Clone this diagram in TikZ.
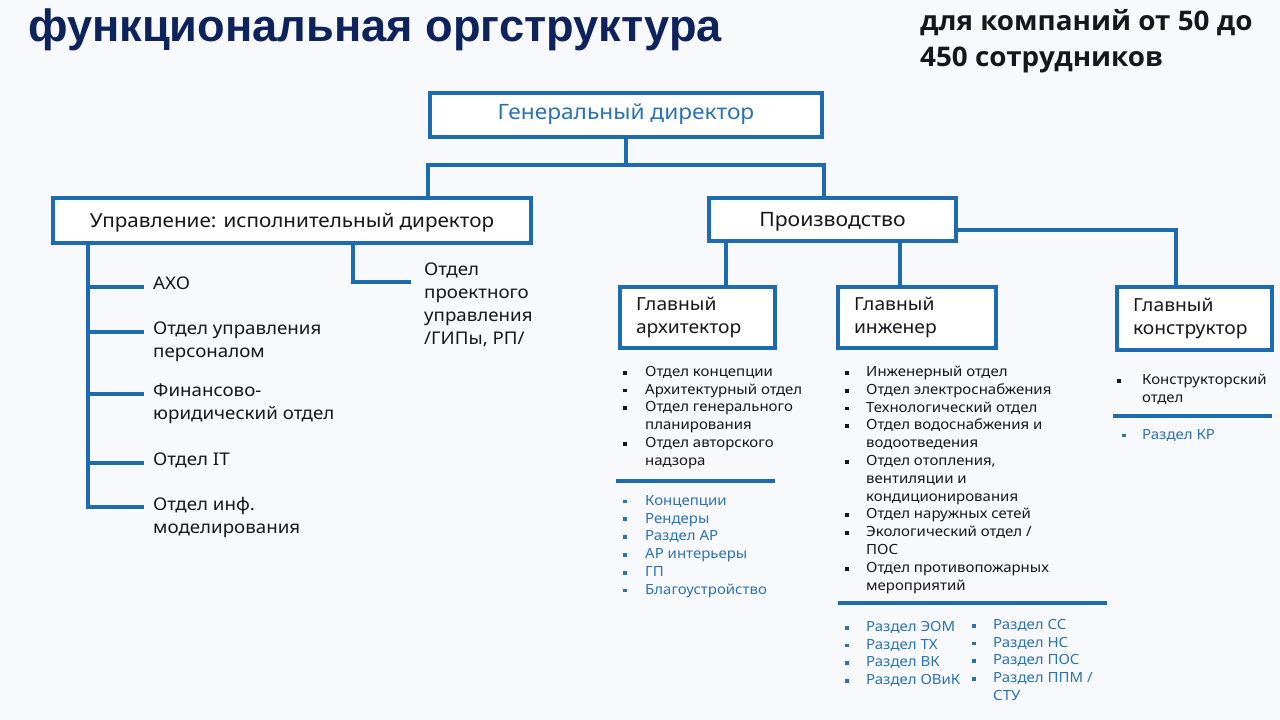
\documentclass[tikz,border=0pt]{standalone}
\usepackage{fontspec}
\setmainfont{Noto Sans}[FakeStretch=1.07]
\newfontfamily\titlefont{Liberation Sans}
\newfontfamily\subfont{Open Sans}[FakeStretch=1.03]
\usetikzlibrary{calc}

\definecolor{bg}{RGB}{248,249,252}
\definecolor{navy}{RGB}{14,35,92}
\definecolor{ink}{RGB}{22,22,28}
\definecolor{blu}{RGB}{30,108,176}
\definecolor{lblu}{RGB}{42,114,182}

% пункт списка с квадратным маркером
\newlength\bind
\newcommand\bitem[1]{\par\hangindent=\bind\hangafter=1\noindent\makebox[\bind][l]{\hspace{2pt}\raisebox{1.8pt}{\rule{3.8pt}{3.8pt}}}#1}

\tikzset{
  box/.style={draw=blu, line width=3.5pt, fill=white, inner sep=0pt, text=ink, text height=16pt, text depth=2pt, font=\fontsize{19.3}{23}\selectfont},
  sbox/.style={draw=blu, line width=3.5pt, fill=white, inner sep=0pt, text=ink, align=left, inner xsep=16pt, font=\fontsize{18}{23}\selectfont},
  conn/.style={draw=blu, line width=4pt, line cap=rect},
  sep/.style={draw=blu, line width=3.5pt},
  item/.style={anchor=north west, inner sep=0pt, align=left, text=ink, font=\fontsize{17.5}{23}\selectfont},
  blist/.style={anchor=north west, inner sep=0pt, font=\fontsize{14}{17.8}\selectfont},
}

\begin{document}
\begin{tikzpicture}[x=1pt,y=-1pt]
  % фон
  \fill[bg] (0,0) rectangle (1280,720);
  \useasboundingbox (0,0) rectangle (1280,720);

  % заголовок
  \node[anchor=west, inner sep=0pt, text=navy, font=\titlefont\bfseries\fontsize{45.2}{50}\selectfont] (title) at (28,30) {функциональная оргструктура};
  \node[anchor=north west, inner sep=0pt, align=left, text=ink, font=\subfont\bfseries\fontsize{27}{36}\selectfont] (sub) at (920,9) {для компаний от 50 до\\450 сотрудников};

  % верхний уровень
  \node[box, minimum width=392pt, minimum height=44pt, text=lblu, text height=14pt, text depth=5.5pt, font=\fontsize{21.2}{24}\selectfont] (gd) at (626,115) {Генеральный директор};
  \node[box, minimum width=478pt, minimum height=45pt] (upr) at (292,220.5) {Управление: исполнительный директор};
  \node[box, minimum width=247pt, minimum height=43pt, font=\fontsize{19.8}{24}\selectfont] (prod) at (832.5,219.5) {Производство};

  % связи от генерального директора
  \coordinate (split) at (626,165);
  \draw[conn] (gd.south) -- (split);
  \draw[conn] (gd.west |- upr.north) |- (split) -| (gd.east |- prod.north);

  % главные специалисты
  \node[sbox, text width=123pt, minimum height=61pt] (arch) at (697.5,317.5) {Главный\\архитектор};
  \node[sbox, text width=126pt, minimum height=61pt] (eng) at (917,317.5) {Главный\\инженер};
  \node[sbox, text width=123pt, minimum height=63pt] (kon) at (1194.5,318.5) {Главный\\конструктор};

  \coordinate (ax) at (726,0);
  \coordinate (ex) at (900,0);
  \coordinate (kturn) at (1176,230);
  \draw[conn] (prod.south -| ax) -- (arch.north -| ax);
  \draw[conn] (prod.south -| ex) -- (eng.north -| ex);
  \draw[conn] (prod.east |- kturn) -| (kon.north -| kturn);

  % отделы управления
  \coordinate (lx) at (88,0);
  \foreach \n/\y/\t in {1/287/АХО, 2/332/{Отдел управления\\персоналом}, 3/394/{Финансово-\\юридический отдел}, 4/463/Отдел IT, 5/507/{Отдел инф.\\моделирования}}{
    \coordinate (b\n) at (142,\y);
    \node[item] (l\n) at (153,\y-10) {\t};
    \draw[conn] (lx |- b\n) -- (b\n);
  }
  \draw[conn] (upr.south -| lx) -- (lx |- b5);

  % отдел проектного управления
  \coordinate (px) at (353,0);
  \coordinate (pb) at (409,282);
  \node[item] (proj) at (424,263) {Отдел\\проектного\\управления\\/ГИПы, РП/};
  \draw[conn] (upr.south -| px) |- (pb);

  % главный архитектор: отделы и разделы
  \node[blist, text=ink] (archd) at (621,366) {\begin{minipage}[t]{220pt}\setlength\bind{24pt}\bitem{Отдел концепции}\bitem{Архитектурный отдел}\bitem{Отдел генерального\\планирования}\bitem{Отдел авторского\\надзора}\end{minipage}};
  \draw[sep] (616,481) -- (775,481);
  \node[blist, text=lblu] (archs) at (621,495) {\begin{minipage}[t]{220pt}\setlength\bind{24pt}\bitem{Концепции}\bitem{Рендеры}\bitem{Раздел АР}\bitem{АР интерьеры}\bitem{ГП}\bitem{Благоустройство}\end{minipage}};

  % главный инженер: отделы и разделы
  \node[blist, text=ink] (engd) at (843,366) {\begin{minipage}[t]{260pt}\setlength\bind{23pt}\bitem{Инженерный отдел}\bitem{Отдел электроснабжения}\bitem{Технологический отдел}\bitem{Отдел водоснабжения и\\водоотведения}\bitem{Отдел отопления,\\вентиляции и\\кондиционирования}\bitem{Отдел наружных сетей}\bitem{Экологический отдел /\\ПОС}\bitem{Отдел противопожарных\\мероприятий}\end{minipage}};
  \draw[sep] (838,603) -- (1107,603);
  \node[blist, text=lblu] (engs1) at (843,621) {\begin{minipage}[t]{160pt}\setlength\bind{23pt}\bitem{Раздел ЭОМ}\bitem{Раздел ТХ}\bitem{Раздел ВК}\bitem{Раздел ОВиК}\end{minipage}};
  \node[blist, text=lblu] (engs2) at (970,619) {\begin{minipage}[t]{160pt}\setlength\bind{23pt}\bitem{Раздел СС}\bitem{Раздел НС}\bitem{Раздел ПОС}\bitem{Раздел ППМ /\\СТУ}\end{minipage}};

  % главный конструктор: отдел и раздел
  \node[blist, text=ink] (kond) at (1115,374) {\begin{minipage}[t]{160pt}\setlength\bind{27pt}\bitem{Конструкторский\\отдел}\end{minipage}};
  \draw[sep] (1113,416) -- (1272,416);
  \node[blist, text=lblu] (kons) at (1120,429) {\begin{minipage}[t]{160pt}\setlength\bind{22pt}\bitem{Раздел КР}\end{minipage}};
\end{tikzpicture}
\end{document}
